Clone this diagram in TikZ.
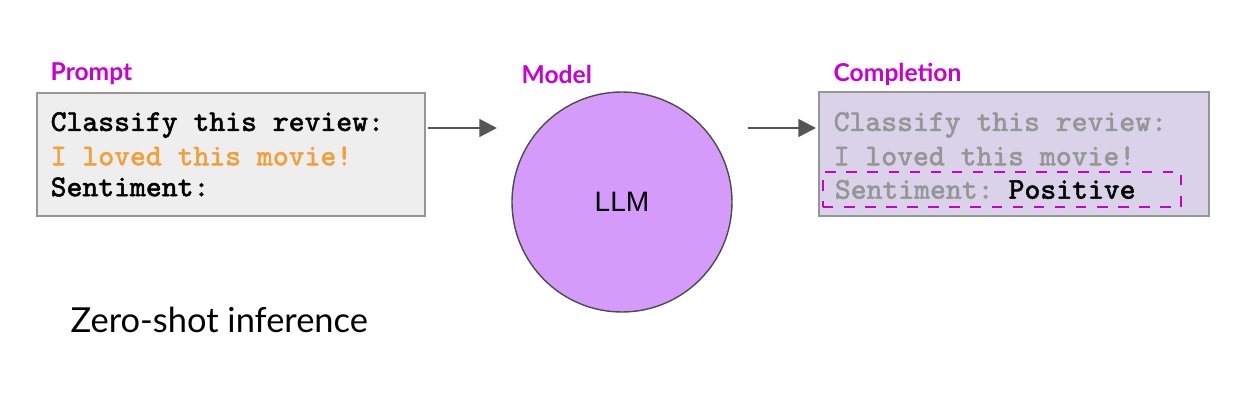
\documentclass[tikz,border=0pt]{standalone}
\usepackage{fontspec}
\usepackage{tikz}
\usetikzlibrary{calc, arrows.meta, positioning}
\newfontfamily\labelfont{Lato}
\newfontfamily\llmfont{Liberation Sans}
\newfontfamily\codefont[FakeBold=1.6]{Latin Modern Mono}
\tikzset{>=Triangle}
\definecolor{mymagenta}{RGB}{200, 0, 210}
\definecolor{myorange}{RGB}{240, 160, 60}
\definecolor{mygray1}{RGB}{238, 238, 238}
\definecolor{mygray2}{RGB}{150, 150, 150}
\definecolor{mylav}{RGB}{217, 210, 233}
\definecolor{myviolet}{RGB}{213, 155, 250}
\definecolor{myarrow}{RGB}{85, 85, 85}

\begin{document}
\begin{tikzpicture}[
    head/.style = {anchor = west, inner sep = 0pt, text = mymagenta, font = \labelfont\bfseries\fontsize{7}{8}\selectfont},
    box/.style = {draw = mygray2, line width = 0.6pt, inner sep = 0pt},
    code/.style = {anchor = west, inner sep = 0pt, font = \codefont\fontsize{8.6}{10}\selectfont},
    flow/.style = {->, myarrow, line width = 0.7pt, >={Triangle[length=5pt, width=5pt]}}
]
\useasboundingbox (0,0) rectangle (12.49, 4.13);

% boxes
\node[box, fill = mygray1, minimum width = 3.88cm, minimum height = 1.23cm] (prompt) at (2.31, 2.585) {};
\node[box, fill = mylav, minimum width = 3.90cm, minimum height = 1.24cm] (completion) at (10.14, 2.59) {};
\node[circle, draw = black!70, fill = myviolet, minimum size = 2.20cm, inner sep = 0pt, font = \llmfont\fontsize{8}{9}\selectfont] (llm) at (6.22, 2.11) {LLM};

% titles
\node[head] (hprompt) at (0.50, 3.39) {Prompt};
\node[head] (hmodel) at (5.21, 3.39) {Model};
\node[head] (hcompl) at (8.33, 3.39) {Completion};

% prompt text
\node[code] (p1) at (0.50, 2.88) {Classify this review:};
\node[code, text = myorange] (p2) at (0.50, 2.57) {I loved this movie!};
\node[code] (p3) at (0.50, 2.26) {Sentiment:};

% completion text
\node[code, text = mygray2] (c1) at (8.33, 2.88) {Classify this review:};
\node[code, text = mygray2] (c2) at (8.33, 2.57) {I loved this movie!};
\node[code, draw = mymagenta, dashed, line width = 0.5pt, inner xsep = 0.12cm, minimum height = 0.35cm, text width = 3.34cm, align = left] (c3) at (8.22, 2.235) {\textcolor{mygray2}{Sentiment:} \textcolor{black}{Positive}};

\coordinate (in) at (4.97, 2.85);
\coordinate (out) at (8.16, 2.85);
\draw[flow] (prompt.east |- in) ++(0.02,0) -- (in);
\draw[flow] ($(llm.east |- out) + (0.15,0)$) -- (out);

\node[anchor = west, inner sep = 0pt, font = \labelfont\fontsize{9.8}{11}\selectfont] (zero) at (0.70, 0.93) {Zero-shot inference};
\end{tikzpicture}
\end{document}
